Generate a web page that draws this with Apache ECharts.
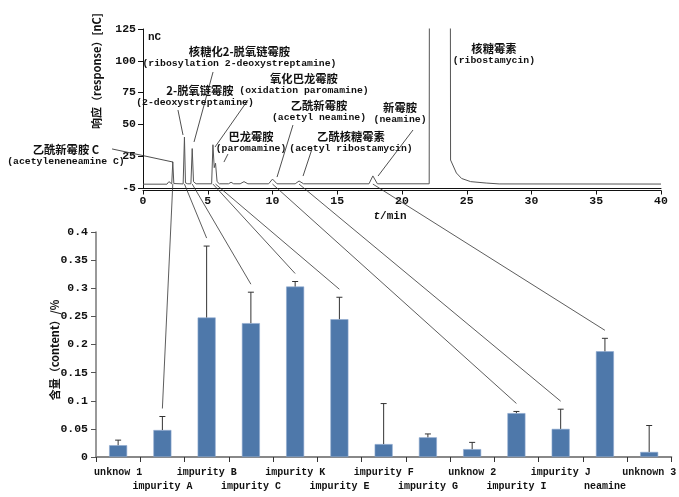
<!DOCTYPE html>
<html><head><meta charset="utf-8">
<script src="https://cdn.jsdelivr.net/npm/echarts@6/dist/echarts.min.js"></script>
<style>html,body{margin:0;padding:0;background:#fff}#c{width:679px;height:497px}</style>
</head><body><div id="c"></div>
<script>
// ---- Chromatogram (top) ----
const chromTimes = [0, 1.85, 2.0, 2.12, 2.22, 2.3, 2.38, 2.5, 3.1, 3.2, 3.28, 3.45, 3.7, 3.8, 3.9, 4.1, 5.3, 5.4, 5.5, 5.6, 5.72, 5.9, 6.6, 6.8, 7.0, 7.5, 7.8, 8.1, 9.7, 10.0, 10.35, 11.75, 12.05, 12.4, 17.45, 17.75, 18.1, 22.1, 22.18, 23.66, 23.75, 24.2, 24.6, 25.3, 26.5, 27.5, 40];
const chromResponses = [3, 3, 5, 3.5, 3.3, 20.5, 3.5, 3.2, 3.2, 40, 4, 3.3, 3.3, 31, 5, 3.3, 3.3, 34, 16, 19.5, 5, 3.3, 3.3, 4.5, 3.3, 3.3, 5, 3.3, 3.3, 7, 3.3, 3.3, 5.5, 3.3, 3.3, 9.5, 3.3, 3.3, 800, 800, 22, 11.8, 7.5, 5, 3.9, 3.2, 3.1];
const chromYTicks = [0, 25, 50, 75, 100, 125];
const chromYTickLabels = ['-5', '25', '50', '75', '100', '125'];

// peak annotations
const peakNamesCN = ['乙酰新霉胺 C', '2-脱氧链霉胺', '核糖化2-脱氧链霉胺', '氧化巴龙霉胺', '巴龙霉胺', '乙酰新霉胺', '乙酰核糖霉素', '新霉胺', '核糖霉素'];
const peakNamesEN = ['(acetyleneneamine C)', '(2-deoxystreptamine)', '(ribosylation 2-deoxystreptamine)', '(oxidation paromamine)', '(paromamine)', '(acetyl neamine)', '(acetyl ribostamycin)', '(neamine)', '(ribostamycin)'];
const peakTimes = [2.3, 3.2, 3.8, 5.4, 5.6, 10.0, 12.05, 17.75, 23.0];
// bar index each peak maps to (-1 = none)
const peakBarIndex = [1, 2, 3, 4, 5, 9, 10, 11, -1];
// label anchor (t, response) for each annotation
const labelAnchorT = [-5.95, 4.4, 7.45, 12.43, 8.34, 13.59, 16.06, 19.85, 27.1];
const labelAnchorV = [29.9, 76.3, 106.9, 85.7, 40.1, 64.5, 40.1, 62.9, 109.3];
// pointer line ends (t, response)
const pointerFromT = [-2.39, 2.70, 5.41, 8.11, 6.56, 11.58, 13.05, 20.85];
const pointerFromV = [30.7, 61.3, 91.2, 69.2, 26.7, 49.5, 30.7, 45.6];
const pointerToT = [2.32, 3.09, 3.94, 5.56, 6.25, 10.35, 12.36, 18.15];
const pointerToV = [20.4, 41.7, 36.2, 32.2, 20.4, 8.6, 9.4, 9.4];
const baselineResponse = 3.1;

// ---- Content bars (bottom) ----
const categories = ['unknow 1', 'impurity A', 'impurity B', 'impurity C', 'impurity K', 'impurity E', 'impurity F', 'impurity G', 'unknow 2', 'impurity I', 'impurity J', 'neamine', 'unknown 3'];
const contentValues = [0.021, 0.048, 0.248, 0.238, 0.303, 0.245, 0.023, 0.035, 0.014, 0.078, 0.050, 0.188, 0.009];
const contentErrorTops = [0.030, 0.072, 0.375, 0.293, 0.312, 0.284, 0.095, 0.041, 0.026, 0.081, 0.085, 0.211, 0.056];

const MONO = '"Liberation Mono", "DejaVu Sans Mono", monospace';
const CJK = '"Noto Sans CJK SC", sans-serif';

const chart = echarts.init(document.getElementById('c'), null, {renderer: 'canvas'});

const chromData = chromTimes.map((t, i) => [t, chromResponses[i]]);

const option = {
  animation: false,
  backgroundColor: '#fff',
  grid: [
    {left: 143, top: 29, width: 518, height: 159},
    {left: 96, top: 232, width: 580, height: 225}
  ],
  xAxis: [
    {gridIndex: 0, type: 'value', position: 'bottom', min: 0, max: 40, interval: 5,
      axisLine: {show: true, onZero: false, lineStyle: {color: '#111', width: 1}},
      axisTick: {show: false}, axisLabel: {show: false}, splitLine: {show: false}},
    {gridIndex: 0, type: 'value', position: 'bottom', min: 0, max: 40, interval: 5, offset: 2.5,
      axisLine: {show: true, onZero: false, lineStyle: {color: '#111', width: 1}},
      axisTick: {show: true, length: 4, lineStyle: {color: '#111'}},
      axisLabel: {show: true, margin: 5, fontFamily: MONO, fontWeight: 'bold', fontSize: 11.5, color: '#111'},
      splitLine: {show: false}},
    {gridIndex: 1, type: 'category', position: 'bottom', data: categories, boundaryGap: true,
      axisLine: {show: true, lineStyle: {color: '#888', width: 2}},
      axisTick: {show: true, length: 5, interval: 0, lineStyle: {color: '#333', width: 1}},
      axisLabel: {interval: 0, margin: 8, fontFamily: MONO, fontWeight: 'bold', fontSize: 10, color: '#111', lineHeight: 14,
        formatter: (v, i) => (i % 2 ? '\n' + v : v)}}
  ],
  yAxis: [
    {gridIndex: 0, type: 'value', min: 0, max: 125, interval: 25,
      axisLine: {show: true, lineStyle: {color: '#111', width: 1}},
      axisTick: {show: true, length: 5, lineStyle: {color: '#111'}},
      axisLabel: {margin: 7, fontFamily: MONO, fontWeight: 'bold', fontSize: 11.5, color: '#111',
        formatter: v => chromYTickLabels[chromYTicks.indexOf(v)]},
      splitLine: {show: false}},
    {gridIndex: 1, type: 'value', min: 0, max: 0.4, interval: 0.05,
      axisLine: {show: true, lineStyle: {color: '#777', width: 1.5}},
      axisTick: {show: true, length: 5, lineStyle: {color: '#555'}},
      axisLabel: {margin: 8, fontFamily: MONO, fontWeight: 'bold', fontSize: 11.5, color: '#111',
        formatter: v => String(+v.toFixed(2))},
      splitLine: {show: false}}
  ],
  series: [
    {type: 'line', xAxisIndex: 0, yAxisIndex: 0, data: chromData, showSymbol: false, symbol: 'none',
      clip: true, lineStyle: {color: '#555', width: 1}, silent: true},
    {type: 'bar', xAxisIndex: 2, yAxisIndex: 1, data: contentValues, barWidth: 18,
      itemStyle: {color: '#4e78aa', borderColor: '#8eaad0', borderWidth: 0.6}},
    {type: 'custom', xAxisIndex: 2, yAxisIndex: 1,
      data: contentValues.map((v, i) => [i, v, contentErrorTops[i]]),
      renderItem: (params, api) => {
        const p0 = api.coord([api.value(0), api.value(1)]);
        const p1 = api.coord([api.value(0), api.value(2)]);
        const cap = 3;
        return {type: 'group', children: [
          {type: 'line', shape: {x1: p0[0], y1: p0[1], x2: p1[0], y2: p1[1]}, style: {stroke: '#333', lineWidth: 1}},
          {type: 'line', shape: {x1: p1[0] - cap, y1: p1[1], x2: p1[0] + cap, y2: p1[1]}, style: {stroke: '#333', lineWidth: 1}}
        ]};
      }, z: 3}
  ]
};
chart.setOption(option);

// annotations drawn through the chart's own scales
const toTop = (t, v) => chart.convertToPixel({xAxisIndex: 0, yAxisIndex: 0}, [t, v]);
const toBot = (i, v) => chart.convertToPixel({xAxisIndex: 2, yAxisIndex: 1}, [i, v]);
const g = [];
peakNamesCN.forEach((cn, i) => {
  const p = toTop(labelAnchorT[i], labelAnchorV[i]);
  g.push({type: 'text', x: p[0], y: p[1], style: {text: cn, align: 'center', verticalAlign: 'middle',
    fontFamily: CJK, fontWeight: 'bold', fontSize: 11.3, fill: '#111'}, z: 10});
  const dx = (i === 1) ? -5 : 0;
  g.push({type: 'text', x: p[0] + dx, y: p[1] + 11.5, style: {text: peakNamesEN[i], align: 'center', verticalAlign: 'middle',
    fontFamily: MONO, fontWeight: 'bold', fontSize: 9.8, fill: '#111'}, z: 10});
});
pointerFromT.forEach((t, i) => {
  const a = toTop(t, pointerFromV[i]);
  const b = toTop(pointerToT[i], pointerToV[i]);
  g.push({type: 'line', shape: {x1: a[0], y1: a[1], x2: b[0], y2: b[1]}, style: {stroke: '#222', lineWidth: 0.8}, z: 10});
});
peakTimes.forEach((t, i) => {
  const bi = peakBarIndex[i];
  if (bi < 0) return;
  const a = toTop(t, baselineResponse);
  const b = toBot(bi, contentErrorTops[bi]);
  g.push({type: 'line', shape: {x1: a[0], y1: a[1], x2: b[0], y2: b[1] - 8}, style: {stroke: '#333', lineWidth: 0.8}, z: 10});
});
// axis names & unit
g.push({type: 'text', x: 97, y: 71, rotation: Math.PI / 2, style: {text: '响应（response）[nC]', align: 'center', verticalAlign: 'middle',
  fontFamily: CJK, fontWeight: 'bold', fontSize: 11, fill: '#111'}});
g.push({type: 'text', x: 55, y: 350, rotation: Math.PI / 2, style: {text: '含量（content）/%', align: 'center', verticalAlign: 'middle',
  fontFamily: CJK, fontWeight: 'bold', fontSize: 11, fill: '#111'}});
g.push({type: 'text', x: 148, y: 37, style: {text: 'nC', align: 'left', verticalAlign: 'middle',
  fontFamily: MONO, fontWeight: 'bold', fontSize: 11, fill: '#111'}});
g.push({type: 'text', x: 390, y: 216, style: {text: '{i|t}/min', align: 'center', verticalAlign: 'middle',
  fontFamily: MONO, fontWeight: 'bold', fontSize: 11, fill: '#111', rich: {i: {fontStyle: 'italic', fontFamily: MONO, fontWeight: 'bold', fontSize: 11}}}});
chart.setOption({graphic: g});
</script>
</body></html>
